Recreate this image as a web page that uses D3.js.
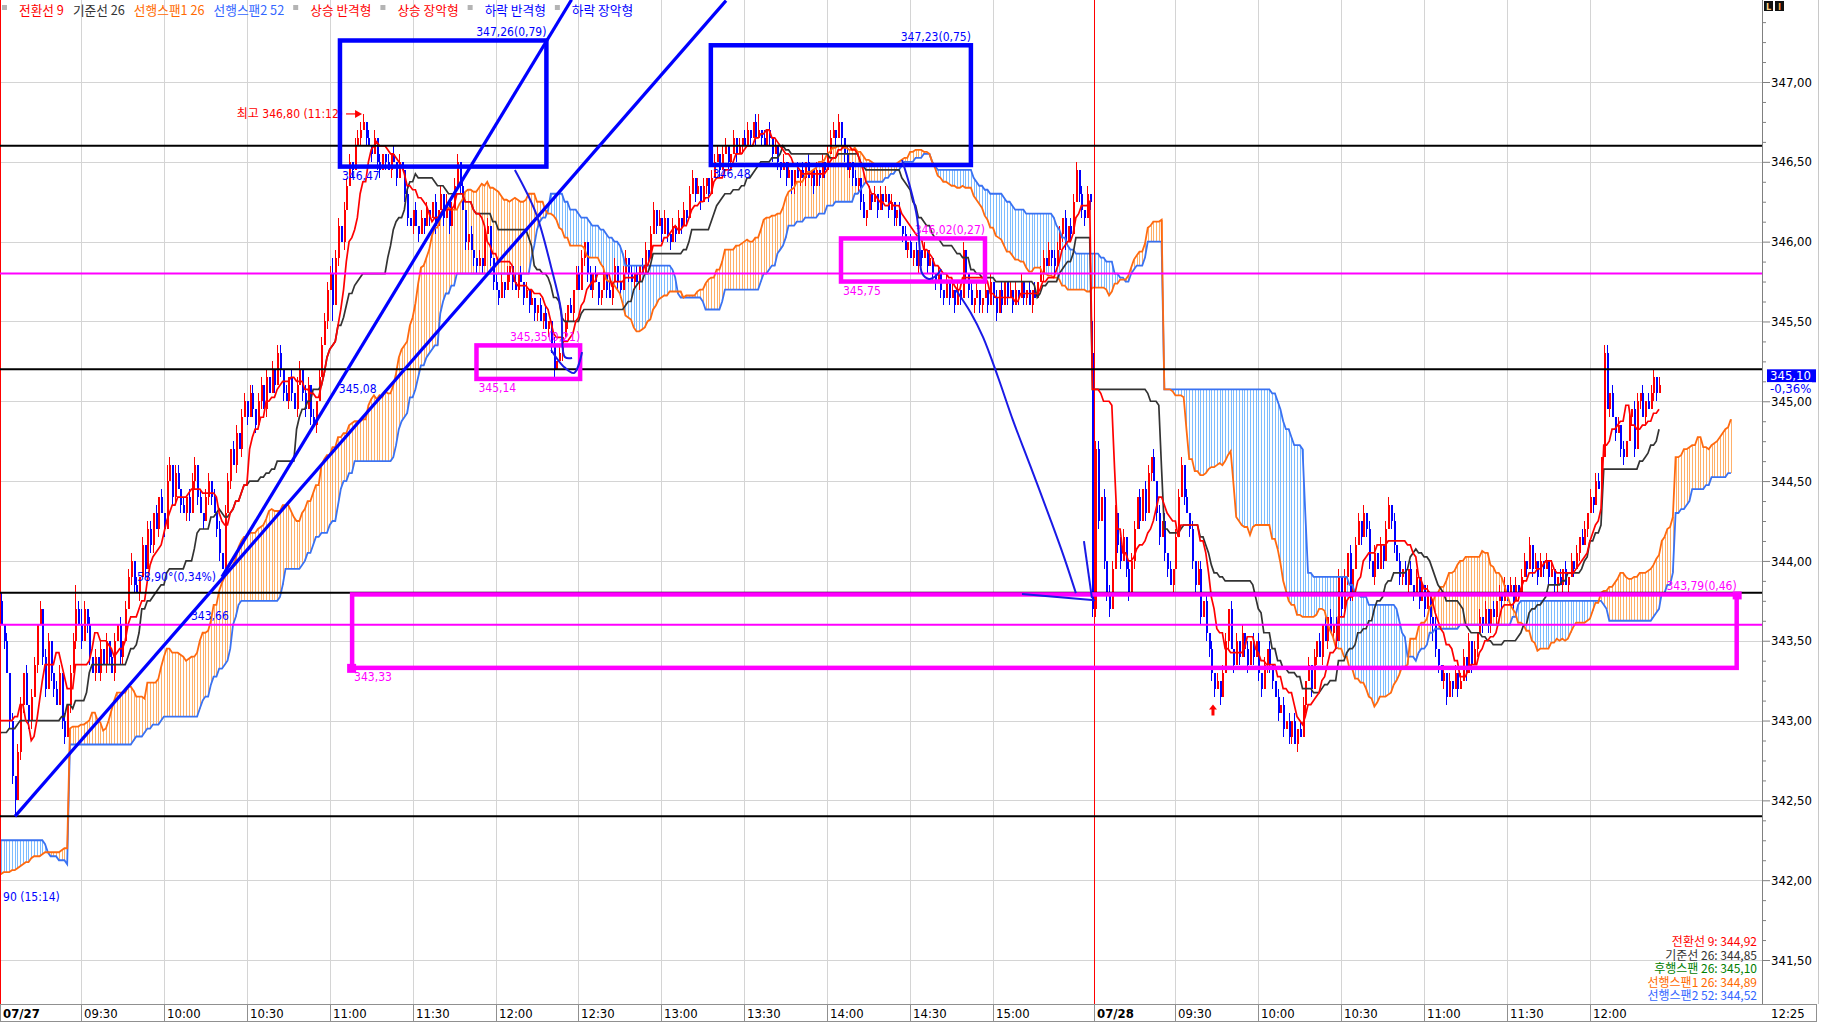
<!DOCTYPE html>
<html><head><meta charset="utf-8"><title>chart</title>
<script src="https://cdn.jsdelivr.net/npm/d3@7/dist/d3.min.js"></script>
<style>html,body{margin:0;padding:0;background:#fff;overflow:hidden}svg{display:block}</style>
</head><body>
<script>
// ===== DATA =====
// prices are stored in ticks of 0.05 above 340.00
const priceBase = 340, priceTick = 0.05;
// previous session (seed for ichimoku, not drawn)
const prevCloses = [50,49,50,51,50,49,48,49,50,51,52,51,50,49,50,51,52,
51,49,48,47,48,47,46,
47,46,45,46,45,44,45,46,45,44,43,44,45,44,
43,42,43,42,41,42,41,40,
40,39,38,39,40,
41,40,41,42,41,42,43,42,43,44,
45,44,45,46,45,46,45,44,45,46,
45,46,45,44,45,46,45];
// 1-minute closes, 07/27 09:00 .. 15:35 then 07/28 09:00 .. 12:25
const closes = [
75,72,70,66,60,53,50,56,62,66,
62,60,63,67,72,74,68,64,70,66,
64,62,66,60,58,62,66,70,74,72,
70,74,72,68,66,68,66,69,67,70,
68,66,70,72,68,70,74,78,80,77,
76,78,82,79,84,82,86,84,88,86,
84,90,92,88,91,89,87,86,88,86,
90,92,88,86,85,88,90,88,86,84,
81,79,86,90,94,92,96,94,98,100,
98,101,99,97,100,102,99,103,101,104,
102,106,104,101,100,103,101,99,102,104,
101,99,102,98,97,100,103,107,110,114,
116,112,118,122,120,124,127,130,129,132,
133,134,135,133,132,131,133,130,129,131,
130,129,131,130,128,130,129,126,123,122,
124,122,121,123,122,124,123,125,122,124,
126,123,125,122,124,127,130,127,124,120,
121,119,118,117,118,117,121,122,118,115,
114,113,115,114,116,117,115,114,116,115,
113,114,112,113,111,112,110,111,109,110,
107,104,105,106,108,110,112,111,114,116,
114,118,120,116,114,116,115,113,114,116,
114,113,115,117,115,114,116,118,116,115,
116,115,117,116,119,118,121,124,122,123,
121,123,121,120,122,121,123,122,124,123,
126,128,126,127,125,127,128,126,128,130,
131,129,131,132,130,131,133,131,132,133,
132,134,133,135,133,134,133,132,134,133,
131,132,130,129,130,128,129,127,129,128,
129,128,130,128,129,127,129,128,130,129,
131,133,134,133,135,133,131,129,130,128,
127,128,125,123,124,126,125,126,124,126,
125,126,124,125,123,124,122,121,119,120,
118,119,117,119,118,119,117,118,116,115,
116,114,113,115,113,114,112,114,113,119,
116,114,112,113,114,112,113,114,112,115,
113,111,114,112,115,113,114,112,114,113,
115,113,114,112,114,113,115,116,118,117,
119,118,117,119,121,123,120,122,121,125,
129,126,124,123,126,125,
74,94,85,88,80,76,74,79,86,82,
80,83,79,76,80,84,88,85,89,86,
91,93,90,86,83,85,81,79,77,79,
83,88,92,88,86,84,80,77,79,73,
75,71,69,66,64,65,63,66,70,74,
69,67,70,68,71,69,67,70,68,70,
66,64,67,69,67,65,63,61,62,59,
60,58,60,57,59,58,62,65,67,64,
68,70,68,72,70,73,71,72,70,78,
74,78,81,76,79,82,85,83,86,84,
80,78,81,79,82,80,84,87,85,82,
80,78,79,77,79,77,76,78,75,77,
74,76,73,72,69,67,65,66,63,65,
64,66,64,65,68,66,70,67,69,71,
73,72,74,72,74,73,75,76,75,77,
76,77,75,77,76,78,80,79,82,79,
80,78,80,79,80,78,79,77,78,77,
79,77,78,80,79,81,83,82,84,86,
88,87,90,89,93,106,99,101,98,96,
97,94,93,95,98,99,94,100,101,98,
100,99,101,103,101,102];
const wickUp = [
1,1,0,1,0,1,0,1,1,0, 1,0,1,1,0,1,0,1,1,0, 0,1,1,0,1,0,1,1,3,1, 2,1,0,1,0,1,0,1,0,1,
0,1,1,0,1,0,1,1,1,0, 1,0,1,0,1,1,0,1,0,1, 0,2,1,0,1,1,0,1,0,1, 1,1,0,1,0,1,1,0,1,0,
1,0,1,1,0,1,1,0,1,1, 0,1,1,0,1,1,0,1,0,1, 0,1,1,0,1,0,1,0,1,1, 0,1,1,0,1,0,1,1,1,1,
1,2,1,1,0,1,1,1,0,1, 1,1,1,0,1,0,1,0,1,0, 0,1,0,1,0,1,0,0,1,0, 0,1,0,1,0,1,0,0,1,0,
1,0,1,0,1,1,1,0,1,0, 0,1,0,0,1,0,1,1,0,0, 1,0,1,0,1,0,0,1,0,1, 0,1,0,1,0,0,1,0,1,0,
0,1,0,1,0,1,0,1,0,1, 1,1,0,0,1,0,1,0,0,1, 0,1,0,1,0,0,1,1,0,1, 0,1,0,1,1,0,1,1,0,1,
0,1,0,0,1,0,1,0,1,0, 1,1,0,1,0,1,0,0,1,1, 1,0,1,1,0,0,1,0,1,0, 1,1,0,0,1,2,0,1,0,1,
0,1,0,0,1,0,1,0,0,1, 0,1,0,1,0,0,1,0,1,0, 1,1,1,0,1,0,0,1,0,0, 1,0,0,1,0,1,0,1,0,1,
0,1,0,1,0,0,1,0,1,0, 1,0,1,0,0,1,0,1,0,0, 1,0,0,1,0,1,0,1,0,1, 0,0,1,0,1,0,0,1,0,1,
0,1,0,1,0,0,1,0,1,0, 1,0,0,1,0,1,0,1,1,0, 1,0,1,1,1,0,1,0,1,1, 1,0,1,0,1,0,4,1,1,0,
1,0,1,1,1,0,1,1,0,1, 1,1,0,1,0,1,1,0,1,0, 1,0,1,0,1,0,1,1,1,0, 1,0,1,0,1,1,0,1,0,1,
0,1,0,1,1,0,1,0,1,0, 1,0,1,0,1,0,1,0,1,0, 1,0,0,1,0,1,0,1,0,1, 0,1,1,0,1,0,1,0,1,0,
1,0,1,0,1,1,0,1,0,1, 0,1,1,0,1,0,1,0,1,0, 1,0,1,1,0,1,0,1,0,1, 0,1,0,1,0,1,0,1,0,0,
1,0,0,1,0,1,0,1,0,1, 1,0,1,0,1,0,1,0,1,0, 0,1,0,1,0,1,0,1,0,1, 0,1,1,0,1,0,1,0,1,0,
1,0,1,0,0,1,0,1,0,1, 0,1,0,1,1,0,1,0,1,1, 0,1,1,0,1,0,1,0,1,0, 1,0,1,1,0,1,0,1,1,1,
0,1];
const wickDn = [
1,0,1,0,1,1,2,0,1,1, 0,1,1,0,1,0,1,1,0,1, 1,0,0,1,1,0,1,0,1,0, 1,0,1,1,0,1,0,1,0,1,
1,0,1,0,1,1,0,0,1,1, 0,1,0,1,0,1,1,0,1,0, 1,0,0,1,1,0,1,0,1,1, 0,1,1,0,1,0,1,1,0,1,
1,0,1,0,1,0,1,0,1,0, 1,0,1,1,0,1,0,1,0,0, 1,0,1,1,0,1,1,0,1,0, 1,1,0,1,0,1,0,0,0,1,
0,2,0,1,0,1,0,0,1,0, 0,1,0,1,0,1,0,1,1,0, 1,0,1,0,1,0,0,1,1,0, 1,0,1,0,1,0,1,0,1,0,
0,1,0,1,0,0,0,1,0,1, 1,0,1,1,0,1,0,0,1,1, 0,1,0,1,0,1,1,0,1,0, 1,0,1,0,1,1,0,1,0,1,
1,1,0,0,1,0,1,0,1,0, 0,0,1,1,0,1,0,1,1,0, 1,0,1,0,1,1,0,0,1,0, 1,0,1,0,0,1,0,0,1,0,
1,0,1,1,0,1,0,1,0,1, 0,0,1,0,1,0,1,1,0,0, 0,1,0,0,1,1,0,1,0,1, 0,0,1,0,1,0,1,0,0,1,
1,0,1,1,0,1,0,1,1,0, 1,0,1,0,1,1,0,1,0,1, 0,0,0,1,0,1,1,0,1,1, 0,1,1,0,1,0,1,0,1,0,
1,0,1,0,1,1,0,1,0,1, 0,1,0,1,1,0,1,0,1,1, 0,1,1,0,1,0,1,0,1,0, 1,1,0,1,0,1,1,0,1,0,
1,1,0,1,0,1,0,1,0,1, 0,1,1,0,1,0,0,0,1,0, 0,1,1,0,0,1,1,0,1,0, 0,1,1,1,0,1,1,1,1,0,
1,1,1,0,0,1,1,0,1,1, 0,1,0,1,0,1,0,1,0,1, 1,0,1,1,0,1,0,0,0,1, 0,1,1,1,0,1,0,1,1,1,
1,0,1,0,0,1,0,1,0,1, 0,1,1,0,1,0,1,1,0,1, 1,1,0,1,0,1,0,1,1,0, 1,0,0,1,0,1,0,1,0,1,
0,1,0,1,1,0,1,0,1,1, 1,0,0,1,0,1,1,0,1,0, 0,1,0,0,1,1,0,1,1,0, 1,0,1,0,1,0,1,0,1,2,
1,1,0,1,1,0,1,0,1,0, 0,1,0,1,0,1,0,1,0,1, 1,0,1,0,1,0,1,0,1,0, 1,0,0,1,0,1,0,1,0,1,
0,1,0,1,1,0,1,0,1,0, 1,0,1,0,0,1,0,1,0,0, 1,0,0,1,0,1,0,1,1,0, 0,1,1,0,1,0,1,0,0,1,
1,0];
const openOverrides = [[0,59],[396,106]];   // session opening prices (ticks)
const dayStarts = [0,396];
const dayLabels = ["07/27","07/28"];
const timeTickIndex = [30,60,90,120,150,180,210,240,270,300,330,360,426,456,486,516,546,576];
const timeTickLabels = ["09:30","10:00","10:30","11:00","11:30","12:00","12:30","13:00","13:30","14:00","14:30","15:00","09:30","10:00","10:30","11:00","11:30","12:00"];
const lastTimeLabel = "12:25";
const priceTicks = [341.5,342,342.5,343,343.5,344,344.5,345,345.5,346,346.5,347];
const blackLevels = [346.60,345.20,343.80,342.40];
const magentaLevels = [345.80,343.60];
// boxes: [startBar, endBar, topPrice, bottomPrice, topLabel, bottomLabel]
const blueBoxes = [[123.7,198.4,347.26,346.47,"347,26(0,79)","346,47"],[257.9,352.0,347.23,346.48,"347,23(0,75)","346,48"]];
const magentaBoxes = [[173.1,210.6,345.35,345.14,"345,35(0,21)","345,14"],[305.0,357.1,346.02,345.75,"346,02(0,27)","345,75"],[128.1,629.1,343.79,343.33,"343,79(0,46)","343,33"]];
const trendLines = [[[6.1,342.40],[263.4,347.51]],[[81,343.90],[207.5,347.515]]];
const curves = [
 [[187.0,346.449],[194.6,346.179],[200.1,345.841],[203.7,345.571],[205.1,345.277],[207.7,345.271]],
 [[200.1,345.321],[204.5,345.22],[208.4,345.177],[211.3,345.308]],
 [[327.1,346.511],[330.0,346.342],[332.5,346.154],[333.6,345.929],[334.3,345.803],[336.8,345.766],[339.7,345.791],[341.2,345.828]],
 [[346.6,345.697],[352.0,345.553],[356.4,345.402],[361.8,345.152],[367.2,344.882],[373.4,344.600],[380.6,344.268],[385.7,344.024],[390.0,343.798]],
 [[370.5,343.792],[396.9,343.754]],
 [[392.9,344.124],[395.8,343.767]]
];
// text notes: [bar, price, text, color, anchor]
const notes = [
 [78.85,343.90,"58,90°(0,34%)","#0000ff","end"],
 [69.8,343.66,"343,66","#0000ff","start"],
 [123.3,345.08,"345,08","#0000ff","start"],
 [1.8,341.90,"90 (15:14)","#0000ff","start"],
 [124.8,346.80,"최고 346,80 (11:12)","#ff0000","end"]
];
const highArrow = [[125.9,346.80],[131.7,346.80]];
const lowArrow = [439.6,343.10];
const legendTop = [["■","#b4b4b4"],["전환선 9","#ff0000"],["기준선 26","#333333"],["선행스팬1 26","#ff6a00"],["선행스팬2 52","#3366ff"],["■","#b4b4b4"],["상승 반격형","#ff0000"],["■","#b4b4b4"],["상승 장악형","#ff0000"],["■","#b4b4b4"],["하락 반격형","#0000ff"],["■","#b4b4b4"],["하락 장악형","#0000ff"]];
const legendBottom = [["전환선 9: 344,92","#ff0000"],["기준선 26: 344,85","#333333"],["후행스팬 26: 345,10","#008000"],["선행스팬1 26: 344,89","#ff6a00"],["선행스팬2 52: 344,52","#3366ff"]];
const lastPriceText = "345,10", lastChangeText = "-0,36%";

// ===== BUILD =====
const W = 1821, H = 1023, plotR = 1762, plotB = 1004;
const numFont = '"Liberation Sans Narrow","DejaVu Sans Condensed","Liberation Sans","Noto Sans CJK KR",sans-serif';
const korFont = '"Noto Sans CJK KR","Liberation Sans",sans-serif';
const toP = t => priceBase + t * priceTick;
const x = d3.scaleLinear().domain([0, 601]).range([-1.9, -1.9 + 601 * 2.7636]);
const y = d3.scaleLinear().domain([347, 341.5]).range([82, 960]);
const fmt = v => d3.format(".2f")(v).replace(".", ",");

const P = prevCloses.length;
const allC = prevCloses.concat(closes);
const ovr = new Map(openOverrides);
const bars = allC.map((c, k) => {
  const i = k - P;
  const o = ovr.has(i) ? ovr.get(i) : (k > 0 ? allC[k - 1] : c);
  const up = i >= 0 ? (wickUp[i] || 0) : 0, dn = i >= 0 ? (wickDn[i] || 0) : 0;
  return {i, o: toP(o), c: toP(c), h: toP(Math.max(o, c) + up), l: toP(Math.min(o, c) - dn)};
});
function mid(k, n) {
  if (k - n + 1 < 0 || k >= bars.length) return null;
  let h = -Infinity, l = Infinity;
  for (let j = k - n + 1; j <= k; j++) { h = Math.max(h, bars[j].h); l = Math.min(l, bars[j].l); }
  return (h + l) / 2;
}
const nDay = closes.length;
const tenkan = [], kijun = [], spanA = [], spanB = [];
for (let i = 0; i < nDay; i++) { tenkan.push({i, v: mid(i + P, 9)}); kijun.push({i, v: mid(i + P, 26)}); }
for (let i = 0; i < nDay + 26; i++) {
  const k = i + P - 26;
  const t = mid(k, 9), kj = mid(k, 26), b = mid(k, 52);
  if (t != null && kj != null && b != null) { spanA.push({i, v: (t + kj) / 2}); spanB.push({i, v: b}); }
}

const svg = d3.select("body").append("svg").attr("width", W).attr("height", H);
svg.append("rect").attr("width", W).attr("height", H).attr("fill", "#fff");
svg.append("defs").append("clipPath").attr("id", "clip").append("rect")
  .attr("x", 0).attr("y", 0).attr("width", plotR).attr("height", plotB);
const g = svg.append("g").attr("clip-path", "url(#clip)");

// grid
g.append("g").selectAll("line").data(priceTicks).join("line")
  .attr("x1", 0).attr("x2", plotR).attr("y1", d => Math.round(y(d)) + 0.5).attr("y2", d => Math.round(y(d)) + 0.5)
  .attr("stroke", "#d4d4d4").attr("stroke-width", 1);
g.append("g").selectAll("line").data(timeTickIndex).join("line")
  .attr("x1", d => Math.round(x(d)) + 0.5).attr("x2", d => Math.round(x(d)) + 0.5).attr("y1", 0).attr("y2", plotB)
  .attr("stroke", "#d4d4d4").attr("stroke-width", 1);

// cloud hatch
const sb = new Map(spanB.map(d => [d.i, d.v]));
g.append("g").selectAll("line").data(spanA).join("line")
  .attr("x1", d => Math.round(x(d.i)) + 0.5).attr("x2", d => Math.round(x(d.i)) + 0.5)
  .attr("y1", d => y(d.v)).attr("y2", d => y(sb.get(d.i)))
  .attr("stroke", d => d.v >= sb.get(d.i) ? "#ffb06a" : "#7dbcff").attr("stroke-width", 1);

// candles
const dayBars = bars.filter(b => b.i >= 0);
const cg = g.append("g").attr("shape-rendering", "crispEdges");
cg.selectAll("line").data(dayBars).join("line")
  .attr("x1", d => Math.round(x(d.i)) + 0.5).attr("x2", d => Math.round(x(d.i)) + 0.5)
  .attr("y1", d => y(d.h)).attr("y2", d => y(d.l))
  .attr("stroke", d => d.c >= d.o ? "#ff0000" : "#0000ff");
cg.selectAll("rect").data(dayBars).join("rect")
  .attr("x", d => Math.round(x(d.i)) - 0.5).attr("width", 2)
  .attr("y", d => y(Math.max(d.o, d.c))).attr("height", d => Math.max(1, Math.abs(y(d.o) - y(d.c))))
  .attr("fill", d => d.c >= d.o ? "#ff0000" : "#0000ff");

// ichimoku lines
const line = d3.line().x(d => x(d.i)).y(d => y(d.v));
g.append("path").datum(spanB).attr("d", line).attr("fill", "none").attr("stroke", "#3a72f2").attr("stroke-width", 1.8);
g.append("path").datum(spanA).attr("d", line).attr("fill", "none").attr("stroke", "#ff6a10").attr("stroke-width", 1.8);
g.append("path").datum(kijun).attr("d", line).attr("fill", "none").attr("stroke", "#333333").attr("stroke-width", 1.7);
g.append("path").datum(tenkan).attr("d", line).attr("fill", "none").attr("stroke", "#ff0000").attr("stroke-width", 1.7);

// day separators
g.append("g").selectAll("line").data(dayStarts).join("line")
  .attr("x1", d => Math.round(x(d)) + 2.5).attr("x2", d => Math.round(x(d)) + 2.5).attr("y1", 0).attr("y2", plotB)
  .attr("stroke", "#ff0000").attr("stroke-width", 1);

// level lines
g.append("g").selectAll("line").data(blackLevels).join("line")
  .attr("x1", 0).attr("x2", plotR).attr("y1", d => y(d)).attr("y2", d => y(d)).attr("stroke", "#000").attr("stroke-width", 2);
g.append("g").selectAll("line").data(magentaLevels).join("line")
  .attr("x1", 0).attr("x2", plotR).attr("y1", d => y(d)).attr("y2", d => y(d)).attr("stroke", "#ff00ff").attr("stroke-width", 2);

// notes text
notes.forEach(n => {
  g.append("text").attr("x", x(n[0])).attr("y", y(n[1]) + 4.5).attr("text-anchor", n[4])
    .attr("fill", n[3]).attr("font-size", 12).attr("font-family", numFont).text(n[2]);
});
// high arrow
const ha = highArrow.map(p => [x(p[0]), y(p[1])]);
g.append("line").attr("x1", ha[0][0]).attr("y1", ha[0][1]).attr("x2", ha[1][0] - 5).attr("y2", ha[1][1]).attr("stroke", "#ff0000").attr("stroke-width", 1.2);
g.append("path").attr("d", `M${ha[1][0]},${ha[1][1]} l-7,-4 l0,8 z`).attr("fill", "#ff0000");
// low arrow
const la = [x(lowArrow[0]), y(lowArrow[1])];
g.append("path").attr("d", `M${la[0]},${la[1]} l-4,5 l2.5,0 l0,6 l3,0 l0,-6 l2.5,0 z`).attr("fill", "#ff0000");

// boxes
function drawBox(b, color) {
  const x0 = x(b[0]), x1 = x(b[1]), y0 = y(b[2]), y1 = y(b[3]);
  g.append("rect").attr("x", x0).attr("y", y0).attr("width", x1 - x0).attr("height", y1 - y0)
    .attr("fill", "none").attr("stroke", color).attr("stroke-width", 4.5);
  g.append("text").attr("x", x1).attr("y", y0 - 4).attr("text-anchor", "end").attr("fill", color)
    .attr("font-size", 12).attr("font-family", numFont).text(b[4]);
  g.append("text").attr("x", x0 + 2).attr("y", y1 + 13).attr("fill", color)
    .attr("font-size", 12).attr("font-family", numFont).text(b[5]);
}
blueBoxes.forEach(b => drawBox(b, "#0000ff"));
magentaBoxes.forEach(b => drawBox(b, "#ff00ff"));
const big = magentaBoxes[2];
g.append("rect").attr("x", x(big[0]) - 5).attr("y", y(big[3]) - 4).attr("width", 9).attr("height", 9).attr("fill", "#ff00ff");
g.append("rect").attr("x", x(big[1]) - 4).attr("y", y(big[2]) - 3).attr("width", 9).attr("height", 8).attr("fill", "#ff00ff");

// trend lines and curves
trendLines.forEach(t => {
  g.append("line").attr("x1", x(t[0][0])).attr("y1", y(t[0][1])).attr("x2", x(t[1][0])).attr("y2", y(t[1][1]))
    .attr("stroke", "#0000ff").attr("stroke-width", 3.2);
});
const cl = d3.line().x(d => x(d[0])).y(d => y(d[1])).curve(d3.curveCatmullRom);
curves.forEach(c => g.append("path").datum(c).attr("d", cl).attr("fill", "none").attr("stroke", "#1a1ae6").attr("stroke-width", 2));

// ===== top legend =====
const lg = svg.append("g").attr("font-family", korFont).attr("font-size", 12.7);
let lx = 2;
legendTop.forEach(it => {
  if (it[0] === "■") {
    lg.append("rect").attr("x", lx).attr("y", 5).attr("width", 5).attr("height", 5).attr("fill", it[1]);
    lx += 17;
  } else {
    const t = lg.append("text").attr("x", lx).attr("y", 14.8).attr("fill", it[1]).text(it[0]);
    lx += t.node().getComputedTextLength() + 9;
  }
});

// ===== bottom-right legend =====
const bl = svg.append("g").attr("font-family", korFont).attr("font-size", 12).attr("text-anchor", "end");
legendBottom.forEach((it, k) => bl.append("text").attr("x", 1757).attr("y", 946 + k * 13.5).attr("fill", it[1]).text(it[0]));

// ===== right axis =====
svg.append("rect").attr("x", plotR).attr("y", 0).attr("width", W - plotR).attr("height", H).attr("fill", "#fff");
const minor = d3.range(341.5, 347.5, 0.125).filter(v => !priceTicks.some(p => Math.abs(p - v) < 1e-6));
const ax = svg.append("g").attr("transform", `translate(${plotR},0)`);
ax.call(d3.axisRight(y).tickValues(minor).tickSize(4).tickFormat(""));
const ax2 = svg.append("g").attr("transform", `translate(${plotR},0)`);
ax2.call(d3.axisRight(y).tickValues(priceTicks).tickSize(8).tickPadding(1).tickFormat(fmt));
[ax, ax2].forEach(a => { a.select(".domain").remove(); a.selectAll("line").attr("stroke", "#808080"); });
ax2.selectAll("text").attr("font-size", 13).attr("font-family", numFont).attr("fill", "#000");
svg.append("line").attr("x1", plotR + 0.5).attr("x2", plotR + 0.5).attr("y1", 0).attr("y2", 1021).attr("stroke", "#808080");
// far-right strip
svg.append("line").attr("x1", 1818.5).attr("x2", 1818.5).attr("y1", 0).attr("y2", 1004).attr("stroke", "#c8c8c8");
// last price tag
const yl = y(toP(closes[closes.length - 1]));
svg.append("rect").attr("x", 1767).attr("y", yl - 16).attr("width", 49).attr("height", 13).attr("fill", "#0000ff");
svg.append("text").attr("x", 1770).attr("y", yl - 5).attr("fill", "#fff").attr("font-size", 13).attr("font-family", numFont).text(lastPriceText);
svg.append("rect").attr("x", 1767).attr("y", yl - 3).attr("width", 45).attr("height", 13).attr("fill", "#fff");
svg.append("text").attr("x", 1770).attr("y", yl + 8).attr("fill", "#0000ff").attr("font-size", 13).attr("font-family", numFont).text(lastChangeText);
// LI icon
svg.append("rect").attr("x", 1764).attr("y", 1).attr("width", 9).attr("height", 10).attr("fill", "#111");
svg.append("rect").attr("x", 1775).attr("y", 1).attr("width", 9).attr("height", 10).attr("fill", "#111");
svg.append("text").attr("x", 1766).attr("y", 10).attr("fill", "#ffd27f").attr("font-size", 9).attr("font-weight", "bold").attr("font-family", numFont).text("L");
svg.append("text").attr("x", 1778).attr("y", 10).attr("fill", "#ffa040").attr("font-size", 9).attr("font-weight", "bold").attr("font-family", numFont).text("I");

// ===== time axis =====
const xb = svg.append("g");
xb.append("rect").attr("x", 0).attr("y", plotB).attr("width", W).attr("height", H - plotB).attr("fill", "#fff");
xb.append("line").attr("x1", 0).attr("x2", 1816).attr("y1", plotB + 0.5).attr("y2", plotB + 0.5).attr("stroke", "#909090");
xb.append("line").attr("x1", 0).attr("x2", 1816).attr("y1", 1021.5).attr("y2", 1021.5).attr("stroke", "#909090");
xb.append("line").attr("x1", 1816.5).attr("x2", 1816.5).attr("y1", plotB).attr("y2", 1022).attr("stroke", "#909090");
const allTicks = timeTickIndex.map((d, k) => ({i: d, t: timeTickLabels[k], b: false}))
  .concat(dayStarts.map((d, k) => ({i: d, t: dayLabels[k], b: true})));
allTicks.forEach(d => {
  const px = Math.round(x(d.i)) + (d.b ? 2 : 0);
  xb.append("line").attr("x1", Math.max(0.5, px + 0.5)).attr("x2", Math.max(0.5, px + 0.5)).attr("y1", plotB).attr("y2", 1021).attr("stroke", "#909090");
  xb.append("text").attr("x", Math.max(2, px + 3)).attr("y", 1017.5).attr("font-size", 13)
    .attr("font-weight", d.b ? "bold" : "normal").attr("font-family", numFont).attr("fill", "#000").text(d.t);
});
xb.append("text").attr("x", 1771).attr("y", 1017.5).attr("font-size", 13).attr("font-family", numFont).attr("fill", "#000").text(lastTimeLabel);
</script>
</body></html>
